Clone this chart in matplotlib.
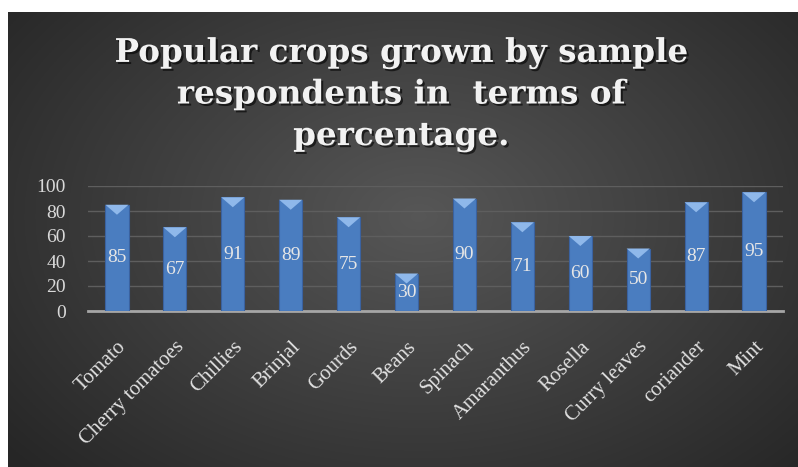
import numpy as np
import matplotlib
matplotlib.use("Agg")
import matplotlib.pyplot as plt
from matplotlib.patches import Polygon
import matplotlib.patheffects as pe

crops = ["Tomato", "Cherry tomatoes", "Chillies", "Brinjal", "Gourds", "Beans",
         "Spinach", "Amaranthus", "Rosella", "Curry leaves", "coriander", "Mint"]
percent = [85, 67, 91, 89, 75, 30, 90, 71, 60, 50, 87, 95]
yticks = [0, 20, 40, 60, 80, 100]

W, H = 798, 467
fig = plt.figure(figsize=(W / 100, H / 100), dpi=100)
fig.patch.set_facecolor("white")

# dark radial gradient background of the chart area
bg = fig.add_axes([8 / W, 0, 1 - 8 / W, 1 - 12 / H])
bg.set_axis_off()
yy, xx = np.mgrid[0:1:300j, 0:1:500j]
r = np.sqrt(((xx - 0.52) / 0.75) ** 2 + ((yy - 0.55) / 0.9) ** 2)
shade = np.clip(0.34 - 0.21 * r, 0.15, 0.36)
img = np.dstack([shade, shade, shade])
bg.imshow(img, aspect="auto", extent=[0, 1, 0, 1], origin="lower")

serif = ["Liberation Serif", "DejaVu Serif"]
title_fx = [pe.withSimplePatchShadow(offset=(1.5, -1.5), shadow_rgbFace="black", alpha=0.6)]
title = "Popular crops grown by sample\nrespondents in  terms of\npercentage."
fig.text(0.503, 1 - 94 / H, title, ha="center", va="center", color="#f2f2f2",
         fontsize=23.5, fontweight="bold", family=["DejaVu Serif"], linespacing=1.33,
         path_effects=title_fx)

ax = fig.add_axes([88 / W, 1 - 311 / H, (783 - 88) / W, (311 - 186) / H])
ax.set_facecolor("none")
x = np.arange(len(crops))
bw = 0.4
ax.bar(x, percent, width=bw, color="#4a7dc0", edgecolor="#3a62a0", linewidth=0.8, zorder=3)
# light bevel on top of each bar
for xi, v in zip(x, percent):
    tri = Polygon([(xi - bw / 2, v), (xi + bw / 2, v), (xi, v - 8)],
                  closed=True, facecolor="#8fb8ea", edgecolor="none", zorder=4)
    ax.add_patch(tri)
    ax.text(xi, v / 2, str(v), ha="center", va="center", color="#e6e6e6",
            fontsize=14, family=serif, zorder=5)

ax.set_xlim(-0.5, len(crops) - 0.5)
ax.set_ylim(0, 100)
ax.set_yticks(yticks)
ax.set_yticklabels([str(t) for t in yticks], family=serif, fontsize=14, color="#d9d9d9")
ax.set_xticks(x)
ax.set_xticklabels(crops, rotation=45, ha="right", rotation_mode="anchor",
                   family=serif, fontsize=15, color="#e0e0e0")
ax.tick_params(length=0, axis="both")
ax.tick_params(axis="y", pad=16)
ax.tick_params(axis="x", pad=19)
ax.grid(axis="y", color="#5e5e5e", linewidth=1, zorder=0)
for s in ["top", "right", "left"]:
    ax.spines[s].set_visible(False)
ax.spines["bottom"].set_color("#a6a6a6")
ax.spines["bottom"].set_linewidth(2)

fig.savefig("out.png", dpi=100)
